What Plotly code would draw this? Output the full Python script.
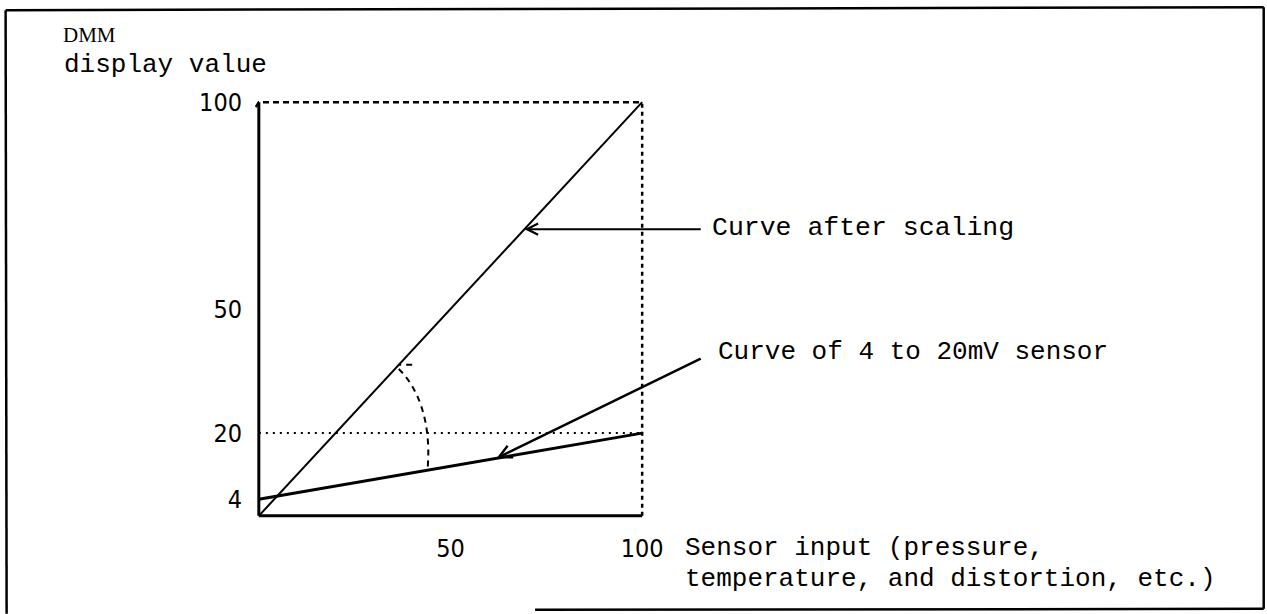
import numpy as np
import plotly.graph_objects as go

# ---- values ---------------------------------------------------------------
x_ticks = [50, 100]
x_tick_text = ["50", "100"]
y_ticks = [4, 20, 50, 100]
y_tick_text = ["4", "20", "50", "100"]

sensor_input = [0, 100]          # sensor input, % of span
scaled_display = [0, 100]        # DMM display after scaling
sensor_display = [4, 20]         # raw 4 to 20 mV sensor reading
full_scale = 100
raw_top = 20

# ---- page geometry (pixels) ----------------------------------------------
W, H = 1267, 614
X0_PX, X100_PX = 259, 642
Y0_PX, Y100_PX = 516, 102
PAD = 1.0                        # data units kept beyond 0..100 so edge lines are not clipped

sx = (X100_PX - X0_PX) / 100.0
sy = (Y0_PX - Y100_PX) / 100.0
left = X0_PX - PAD * sx
right = X100_PX + PAD * sx
top = Y100_PX - PAD * sy
bottom = Y0_PX + PAD * sy


def px_x(px):
    return (px - left) / (right - left)


def px_y(py):
    return (bottom - py) / (bottom - top)


MONO = "Liberation Mono, Courier New, monospace"
NARROW = "Liberation Sans Narrow, DejaVu Sans Condensed, Arial Narrow, Liberation Sans, sans-serif"
SERIF = "Liberation Serif, Times New Roman, serif"
BLACK = "#000000"

fig = go.Figure()


def line(x, y, width, dash="solid"):
    fig.add_trace(go.Scatter(
        x=x, y=y, mode="lines", hoverinfo="skip", showlegend=False,
        line=dict(color=BLACK, width=width, dash=dash),
    ))


# axes
line([0, 0], [0, full_scale], 3)
line([0, full_scale], [0, 0], 3)
# full-scale frame
line([-0.8, 0, full_scale], [full_scale - 1.2, full_scale, full_scale], 2.5, "6px,4px")
line([full_scale, full_scale], [0, full_scale], 2.5, "4px,4px")
# raw top level
line([0, full_scale], [raw_top, raw_top], 2, "2px,5px")
# curves
line(sensor_input, scaled_display, 2)
line(sensor_input, sensor_display, 3)

# rotation arc from the scaled curve down to the sensor curve
a_x0, a_x1 = 36.5, 44.0
a_y0 = float(np.interp(a_x0, sensor_input, scaled_display)) - 1.0
a_y1 = float(np.interp(a_x1, sensor_input, sensor_display))
arc = (f"M {a_x0 + 3.5},{a_y0 + 1.0} L {a_x0},{a_y0 + 1.0} "
       f"M {a_x0},{a_y0} C {a_x0 + 4.5},{a_y0 - 4} {a_x1 + 1.2},{a_y0 - 12} {a_x1},{a_y1}")
fig.add_shape(type="path", path=arc, xref="x", yref="y",
              line=dict(color=BLACK, width=2, dash="6px,5px"))

# arrows pointing at each curve
tip1_x = 69.3
tip1_y = float(np.interp(tip1_x, sensor_input, scaled_display))
fig.add_annotation(x=tip1_x, y=tip1_y, xref="x", yref="y",
                   ax=(702 - X0_PX) / sx, ay=tip1_y, axref="x", ayref="y",
                   text="", showarrow=True, arrowhead=5, arrowsize=1.1,
                   arrowwidth=2, arrowcolor=BLACK)
tip2_x = 62.0
tip2_y = float(np.interp(tip2_x, sensor_input, sensor_display))
fig.add_annotation(x=tip2_x, y=tip2_y, xref="x", yref="y",
                   ax=(702 - X0_PX) / sx, ay=(Y0_PX - 358) / sy, axref="x", ayref="y",
                   text="", showarrow=True, arrowhead=5, arrowsize=1.0,
                   arrowwidth=2.5, arrowcolor=BLACK)


def label(text, px, py, font, size, anchor="left"):
    fig.add_annotation(x=px_x(px), y=px_y(py), xref="paper", yref="paper",
                       text=text, showarrow=False, xanchor=anchor, yanchor="middle",
                       font=dict(family=font, size=size, color=BLACK))


label("DMM", 61, 35, SERIF, 21)
label("display value", 62, 65, MONO, 26)
label("Curve after scaling", 710, 228, MONO, 26.5)
label("Curve of 4 to 20mV sensor", 716, 352, MONO, 26)
label("Sensor input (pressure,", 683, 548, MONO, 26)
label("temperature, and distortion, etc.)", 683, 579, MONO, 26)

# outer frame
frame = dict(color=BLACK, width=2.5)
for x0, y0, x1, y1 in [(6, 10, 1263, 7), (6, 10, 7, 614), (1263, 7, 1263, 609), (535, 610, 1263, 609)]:
    fig.add_shape(type="line", xref="paper", yref="paper",
                  x0=px_x(x0), y0=px_y(y0), x1=px_x(x1), y1=px_y(y1), line=frame)

fig.update_xaxes(range=[-PAD, full_scale + PAD], tickvals=x_ticks, ticktext=x_tick_text,
                 showgrid=False, zeroline=False, showline=False, ticks="",
                 ticklabelstandoff=11, tickfont=dict(family=NARROW, size=25, color=BLACK))
fig.update_yaxes(range=[-PAD, full_scale + PAD], tickvals=y_ticks, ticktext=y_tick_text,
                 showgrid=False, zeroline=False, showline=False, ticks="",
                 ticklabelstandoff=12, tickfont=dict(family=NARROW, size=25, color=BLACK))

fig.update_layout(
    width=W, height=H,
    margin=dict(l=left, r=W - right, t=top, b=H - bottom, pad=0),
    paper_bgcolor="white", plot_bgcolor="white",
    showlegend=False,
)

fig.write_html("out.html")
